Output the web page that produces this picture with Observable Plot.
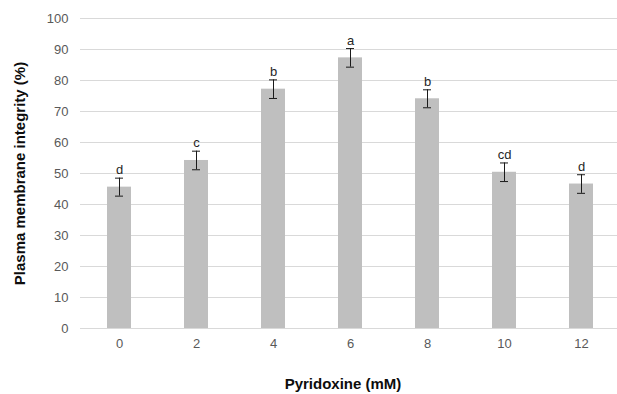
<!DOCTYPE html>
<html>
<head>
<meta charset="utf-8">
<script src="https://cdn.jsdelivr.net/npm/d3@7"></script>
<script src="https://cdn.jsdelivr.net/npm/@observablehq/plot@0.6"></script>
<style>
  html, body { margin: 0; padding: 0; background: #fff; }
  #chart svg { display: block; font-family: "Liberation Sans", Arial, sans-serif; }
</style>
</head>
<body>
<div id="chart"></div>
<script>
const concentrations = ["0", "2", "4", "6", "8", "10", "12"];
const integrity = [45.6, 54.2, 77.2, 87.3, 74.1, 50.4, 46.6];
const stdError = [2.9, 3.0, 3.0, 3.0, 2.9, 3.0, 3.0];
const letters = ["d", "c", "b", "a", "b", "cd", "d"];
const yTicks = [0, 10, 20, 30, 40, 50, 60, 70, 80, 90, 100];
const xTitle = "Pyridoxine (mM)";
const yTitle = "Plasma membrane integrity (%)";

const data = concentrations.map((c, i) => ({
  c, v: integrity[i], lo: integrity[i] - stdError[i], hi: integrity[i] + stdError[i], letter: letters[i]
}));

const chart = Plot.plot({
  width: 617,
  height: 394,
  marginLeft: 80,
  marginRight: 0,
  marginTop: 18,
  marginBottom: 66,
  style: { fontFamily: "'Liberation Sans', Arial, sans-serif", fontSize: "13px", background: "#fff" },
  x: { domain: concentrations, range: [80.5, 619.5], paddingInner: 0.69, paddingOuter: 0.345, label: null },
  y: { domain: [0, 100], label: null },
  marks: [
    Plot.ruleY(yTicks, { stroke: "#d9d9d9", strokeWidth: 1 }),
    Plot.barY(data, { x: "c", y: "v", fill: "#bfbfbf" }),
    Plot.ruleX(data, { x: "c", y1: "lo", y2: "hi", stroke: "#1a1a1a", strokeWidth: 1 }),
    Plot.tickY(data, { x: "c", y: "hi", stroke: "#1a1a1a", strokeWidth: 1, insetLeft: 8, insetRight: 8 }),
    Plot.tickY(data, { x: "c", y: "lo", stroke: "#1a1a1a", strokeWidth: 1, insetLeft: 8, insetRight: 8 }),
    Plot.text(data, { x: "c", y: "hi", text: "letter", lineAnchor: "bottom", dy: -4, fill: "#262626", fontSize: 13 }),
    Plot.axisY(yTicks, { tickSize: 0, tickPadding: 12, color: "#595959", fontSize: 13, label: null }),
    Plot.axisX({ tickSize: 0, tickPadding: 10, color: "#595959", fontSize: 13, label: null }),
    Plot.text([yTitle], { frameAnchor: "left", textAnchor: "middle", lineAnchor: "middle", dx: -60, rotate: -90, fontWeight: "bold", fontSize: 15, fill: "#0d0d0d" }),
    Plot.text([xTitle], { frameAnchor: "bottom", textAnchor: "middle", lineAnchor: "middle", dx: -6, dy: 56, fontWeight: "bold", fontSize: 15, fill: "#0d0d0d" })
  ]
});
document.getElementById("chart").appendChild(chart);
</script>
</body>
</html>
